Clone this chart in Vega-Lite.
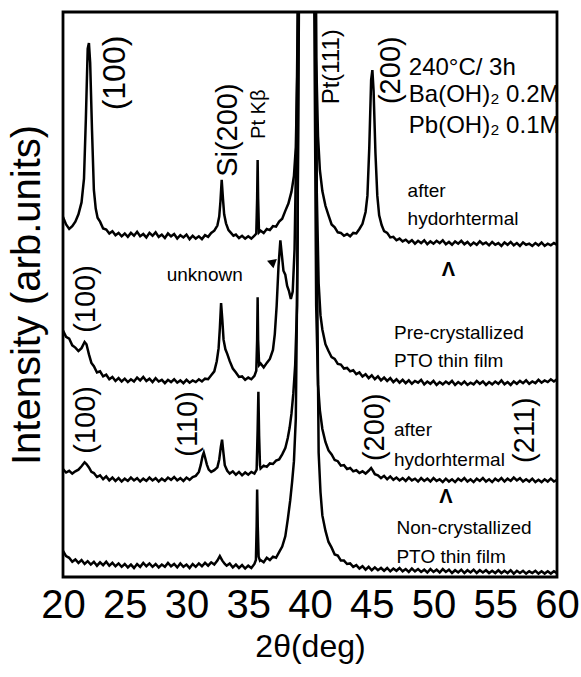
{
  "$schema": "https://vega.github.io/schema/vega-lite/v6.json",
  "width": 494,
  "height": 565,
  "autosize": {"type": "none"},
  "padding": {"left": 63, "top": 12, "right": 24, "bottom": 100},
  "background": "white",
  "config": {
    "view": {"stroke": "black", "strokeWidth": 2.8},
    "axis": {"grid": false, "domain": false, "ticks": false}
  },
  "datasets": {
    "xrd": [
      {"trace":"A","x":20.0,"y":63.7},{"trace":"A","x":20.25,"y":62.4},{"trace":"A","x":20.5,"y":61.6},{"trace":"A","x":20.75,"y":62.1},{"trace":"A","x":21.0,"y":62.9},{"trace":"A","x":21.25,"y":64.2},{"trace":"A","x":21.5,"y":66.3},{"trace":"A","x":21.7,"y":70.5},{"trace":"A","x":21.85,"y":81},{"trace":"A","x":22.0,"y":93.5},{"trace":"A","x":22.1,"y":94.5},{"trace":"A","x":22.2,"y":91},{"trace":"A","x":22.35,"y":79},{"trace":"A","x":22.5,"y":68.5},{"trace":"A","x":22.65,"y":65.2},{"trace":"A","x":22.8,"y":63.6},{"trace":"A","x":23.0,"y":62.9},{"trace":"A","x":23.25,"y":61.7},{"trace":"A","x":23.5,"y":61.5},{"trace":"A","x":23.75,"y":60.8},{"trace":"A","x":24.0,"y":61.2},{"trace":"A","x":24.25,"y":60.5},{"trace":"A","x":24.5,"y":60.9},{"trace":"A","x":24.75,"y":60.3},{"trace":"A","x":25.0,"y":60.8},{"trace":"A","x":25.25,"y":60.2},{"trace":"A","x":25.5,"y":60.9},{"trace":"A","x":25.75,"y":60.4},{"trace":"A","x":26.0,"y":61.1},{"trace":"A","x":26.25,"y":60.3},{"trace":"A","x":26.5,"y":60.7},{"trace":"A","x":26.75,"y":60.1},{"trace":"A","x":27.0,"y":60.9},{"trace":"A","x":27.25,"y":60.4},{"trace":"A","x":27.5,"y":61.0},{"trace":"A","x":27.75,"y":60.2},{"trace":"A","x":28.0,"y":60.6},{"trace":"A","x":28.25,"y":60.0},{"trace":"A","x":28.5,"y":60.8},{"trace":"A","x":28.75,"y":60.3},{"trace":"A","x":29.0,"y":60.7},{"trace":"A","x":29.25,"y":59.9},{"trace":"A","x":29.5,"y":60.5},{"trace":"A","x":29.75,"y":60.1},{"trace":"A","x":30.0,"y":60.6},{"trace":"A","x":30.25,"y":59.8},{"trace":"A","x":30.5,"y":60.4},{"trace":"A","x":30.75,"y":59.9},{"trace":"A","x":31.0,"y":60.3},{"trace":"A","x":31.25,"y":59.8},{"trace":"A","x":31.5,"y":60.5},{"trace":"A","x":31.75,"y":60.2},{"trace":"A","x":32.0,"y":60.9},{"trace":"A","x":32.25,"y":61.3},{"trace":"A","x":32.5,"y":62.2},{"trace":"A","x":32.65,"y":63.8},{"trace":"A","x":32.75,"y":66.5},{"trace":"A","x":32.85,"y":70.3},{"trace":"A","x":32.95,"y":67},{"trace":"A","x":33.05,"y":64.2},{"trace":"A","x":33.2,"y":62.6},{"trace":"A","x":33.4,"y":61.4},{"trace":"A","x":33.6,"y":60.9},{"trace":"A","x":33.8,"y":60.4},{"trace":"A","x":34.0,"y":60.6},{"trace":"A","x":34.25,"y":60.0},{"trace":"A","x":34.5,"y":60.4},{"trace":"A","x":34.75,"y":59.9},{"trace":"A","x":35.0,"y":60.3},{"trace":"A","x":35.25,"y":59.9},{"trace":"A","x":35.5,"y":60.4},{"trace":"A","x":35.65,"y":60.8},{"trace":"A","x":35.72,"y":67},{"trace":"A","x":35.76,"y":73.8},{"trace":"A","x":35.8,"y":67},{"trace":"A","x":35.87,"y":61.0},{"trace":"A","x":36.0,"y":61.3},{"trace":"A","x":36.25,"y":60.9},{"trace":"A","x":36.5,"y":61.6},{"trace":"A","x":36.75,"y":61.4},{"trace":"A","x":37.0,"y":62.1},{"trace":"A","x":37.25,"y":62.0},{"trace":"A","x":37.5,"y":62.9},{"trace":"A","x":37.75,"y":63.4},{"trace":"A","x":38.0,"y":64.8},{"trace":"A","x":38.25,"y":66.1},{"trace":"A","x":38.5,"y":68.2},{"trace":"A","x":38.7,"y":71},{"trace":"A","x":38.85,"y":76},{"trace":"A","x":39.0,"y":92},{"trace":"A","x":39.15,"y":150},{"trace":"A","x":39.75,"y":400},{"trace":"A","x":40.35,"y":150},{"trace":"A","x":40.5,"y":92},{"trace":"A","x":40.65,"y":78},{"trace":"A","x":40.8,"y":72},{"trace":"A","x":41.0,"y":68.3},{"trace":"A","x":41.25,"y":65.7},{"trace":"A","x":41.5,"y":64.0},{"trace":"A","x":41.75,"y":62.4},{"trace":"A","x":42.0,"y":61.9},{"trace":"A","x":42.25,"y":61.0},{"trace":"A","x":42.5,"y":60.9},{"trace":"A","x":42.75,"y":60.4},{"trace":"A","x":43.0,"y":60.7},{"trace":"A","x":43.25,"y":60.3},{"trace":"A","x":43.5,"y":60.9},{"trace":"A","x":43.75,"y":60.8},{"trace":"A","x":44.0,"y":61.6},{"trace":"A","x":44.25,"y":62.5},{"trace":"A","x":44.5,"y":64.6},{"trace":"A","x":44.65,"y":67.5},{"trace":"A","x":44.8,"y":76},{"trace":"A","x":44.95,"y":88},{"trace":"A","x":45.05,"y":89.7},{"trace":"A","x":45.15,"y":86},{"trace":"A","x":45.3,"y":75},{"trace":"A","x":45.45,"y":67.5},{"trace":"A","x":45.6,"y":64.0},{"trace":"A","x":45.8,"y":62.3},{"trace":"A","x":46.0,"y":61.2},{"trace":"A","x":46.25,"y":60.9},{"trace":"A","x":46.5,"y":60.1},{"trace":"A","x":46.75,"y":60.2},{"trace":"A","x":47.0,"y":59.6},{"trace":"A","x":47.25,"y":59.9},{"trace":"A","x":47.5,"y":59.4},{"trace":"A","x":47.75,"y":59.7},{"trace":"A","x":48.0,"y":59.2},{"trace":"A","x":48.25,"y":59.6},{"trace":"A","x":48.5,"y":59.0},{"trace":"A","x":48.75,"y":59.5},{"trace":"A","x":49.0,"y":59.1},{"trace":"A","x":49.25,"y":59.6},{"trace":"A","x":49.5,"y":58.9},{"trace":"A","x":49.75,"y":59.4},{"trace":"A","x":50.0,"y":59.0},{"trace":"A","x":50.25,"y":59.5},{"trace":"A","x":50.5,"y":59.1},{"trace":"A","x":50.75,"y":59.6},{"trace":"A","x":51.0,"y":58.9},{"trace":"A","x":51.25,"y":59.3},{"trace":"A","x":51.5,"y":58.8},{"trace":"A","x":51.75,"y":59.4},{"trace":"A","x":52.0,"y":59.0},{"trace":"A","x":52.25,"y":59.5},{"trace":"A","x":52.5,"y":58.9},{"trace":"A","x":52.75,"y":59.3},{"trace":"A","x":53.0,"y":58.7},{"trace":"A","x":53.25,"y":59.2},{"trace":"A","x":53.5,"y":58.8},{"trace":"A","x":53.75,"y":59.4},{"trace":"A","x":54.0,"y":58.9},{"trace":"A","x":54.25,"y":59.2},{"trace":"A","x":54.5,"y":58.7},{"trace":"A","x":54.75,"y":59.3},{"trace":"A","x":55.0,"y":58.8},{"trace":"A","x":55.25,"y":59.1},{"trace":"A","x":55.5,"y":58.6},{"trace":"A","x":55.75,"y":59.2},{"trace":"A","x":56.0,"y":58.8},{"trace":"A","x":56.25,"y":59.3},{"trace":"A","x":56.5,"y":58.7},{"trace":"A","x":56.75,"y":59.1},{"trace":"A","x":57.0,"y":58.6},{"trace":"A","x":57.25,"y":59.2},{"trace":"A","x":57.5,"y":58.8},{"trace":"A","x":57.75,"y":59.0},{"trace":"A","x":58.0,"y":58.6},{"trace":"A","x":58.25,"y":59.1},{"trace":"A","x":58.5,"y":58.7},{"trace":"A","x":58.75,"y":59.2},{"trace":"A","x":59.0,"y":58.6},{"trace":"A","x":59.25,"y":59.0},{"trace":"A","x":59.5,"y":58.7},{"trace":"A","x":59.75,"y":59.1},{"trace":"A","x":60.0,"y":58.8},
      {"trace":"B","x":20.0,"y":43.6},{"trace":"B","x":20.25,"y":42.5},{"trace":"B","x":20.5,"y":42.2},{"trace":"B","x":20.75,"y":41.0},{"trace":"B","x":21.0,"y":40.6},{"trace":"B","x":21.25,"y":40.0},{"trace":"B","x":21.5,"y":40.5},{"trace":"B","x":21.75,"y":41.6},{"trace":"B","x":21.9,"y":41.2},{"trace":"B","x":22.1,"y":39.4},{"trace":"B","x":22.3,"y":37.9},{"trace":"B","x":22.5,"y":37.3},{"trace":"B","x":22.75,"y":36.2},{"trace":"B","x":23.0,"y":36.4},{"trace":"B","x":23.25,"y":35.5},{"trace":"B","x":23.5,"y":35.8},{"trace":"B","x":23.75,"y":35.0},{"trace":"B","x":24.0,"y":35.4},{"trace":"B","x":24.25,"y":34.7},{"trace":"B","x":24.5,"y":35.2},{"trace":"B","x":24.75,"y":34.6},{"trace":"B","x":25.0,"y":35.1},{"trace":"B","x":25.25,"y":34.5},{"trace":"B","x":25.5,"y":35.0},{"trace":"B","x":25.75,"y":34.6},{"trace":"B","x":26.0,"y":35.3},{"trace":"B","x":26.25,"y":34.8},{"trace":"B","x":26.5,"y":35.4},{"trace":"B","x":26.75,"y":34.7},{"trace":"B","x":27.0,"y":35.1},{"trace":"B","x":27.25,"y":34.5},{"trace":"B","x":27.5,"y":35.2},{"trace":"B","x":27.75,"y":34.6},{"trace":"B","x":28.0,"y":34.9},{"trace":"B","x":28.25,"y":34.3},{"trace":"B","x":28.5,"y":34.9},{"trace":"B","x":28.75,"y":34.5},{"trace":"B","x":29.0,"y":35.0},{"trace":"B","x":29.25,"y":34.4},{"trace":"B","x":29.5,"y":34.8},{"trace":"B","x":29.75,"y":34.3},{"trace":"B","x":30.0,"y":34.9},{"trace":"B","x":30.25,"y":34.4},{"trace":"B","x":30.5,"y":34.8},{"trace":"B","x":30.75,"y":34.5},{"trace":"B","x":31.0,"y":35.0},{"trace":"B","x":31.25,"y":34.6},{"trace":"B","x":31.5,"y":35.1},{"trace":"B","x":31.75,"y":35.0},{"trace":"B","x":32.0,"y":35.7},{"trace":"B","x":32.25,"y":36.4},{"trace":"B","x":32.45,"y":38.2},{"trace":"B","x":32.6,"y":40.5},{"trace":"B","x":32.7,"y":44},{"trace":"B","x":32.8,"y":48.5},{"trace":"B","x":32.9,"y":45.5},{"trace":"B","x":33.0,"y":42},{"trace":"B","x":33.15,"y":40.3},{"trace":"B","x":33.3,"y":39.5},{"trace":"B","x":33.5,"y":38.2},{"trace":"B","x":33.75,"y":36.9},{"trace":"B","x":34.0,"y":36.2},{"trace":"B","x":34.25,"y":35.4},{"trace":"B","x":34.5,"y":35.5},{"trace":"B","x":34.75,"y":34.9},{"trace":"B","x":35.0,"y":35.3},{"trace":"B","x":35.25,"y":35.0},{"trace":"B","x":35.5,"y":35.6},{"trace":"B","x":35.65,"y":36.5},{"trace":"B","x":35.72,"y":42},{"trace":"B","x":35.76,"y":49.5},{"trace":"B","x":35.8,"y":42},{"trace":"B","x":35.88,"y":37.5},{"trace":"B","x":36.0,"y":37.8},{"trace":"B","x":36.25,"y":37.1},{"trace":"B","x":36.5,"y":37.9},{"trace":"B","x":36.75,"y":38.6},{"trace":"B","x":37.0,"y":40.2},{"trace":"B","x":37.15,"y":43},{"trace":"B","x":37.3,"y":48},{"trace":"B","x":37.45,"y":55},{"trace":"B","x":37.6,"y":59.6},{"trace":"B","x":37.72,"y":57},{"trace":"B","x":37.85,"y":54.2},{"trace":"B","x":38.0,"y":53.5},{"trace":"B","x":38.15,"y":51.5},{"trace":"B","x":38.3,"y":50.6},{"trace":"B","x":38.45,"y":49.2},{"trace":"B","x":38.6,"y":50.5},{"trace":"B","x":38.75,"y":58},{"trace":"B","x":38.9,"y":78},{"trace":"B","x":39.05,"y":110},{"trace":"B","x":39.75,"y":400},{"trace":"B","x":40.4,"y":110},{"trace":"B","x":40.55,"y":68},{"trace":"B","x":40.7,"y":52},{"trace":"B","x":40.85,"y":46.3},{"trace":"B","x":41.0,"y":43.8},{"trace":"B","x":41.25,"y":41.2},{"trace":"B","x":41.5,"y":40.0},{"trace":"B","x":41.75,"y":38.9},{"trace":"B","x":42.0,"y":38.6},{"trace":"B","x":42.25,"y":37.7},{"trace":"B","x":42.5,"y":37.6},{"trace":"B","x":42.75,"y":36.9},{"trace":"B","x":43.0,"y":37.0},{"trace":"B","x":43.25,"y":36.4},{"trace":"B","x":43.5,"y":36.6},{"trace":"B","x":43.75,"y":35.9},{"trace":"B","x":44.0,"y":36.2},{"trace":"B","x":44.25,"y":35.5},{"trace":"B","x":44.5,"y":35.9},{"trace":"B","x":44.75,"y":35.2},{"trace":"B","x":45.0,"y":35.7},{"trace":"B","x":45.25,"y":35.0},{"trace":"B","x":45.5,"y":35.5},{"trace":"B","x":45.75,"y":34.8},{"trace":"B","x":46.0,"y":35.3},{"trace":"B","x":46.25,"y":34.7},{"trace":"B","x":46.5,"y":35.2},{"trace":"B","x":46.75,"y":34.5},{"trace":"B","x":47.0,"y":35.0},{"trace":"B","x":47.25,"y":34.4},{"trace":"B","x":47.5,"y":34.9},{"trace":"B","x":47.75,"y":34.3},{"trace":"B","x":48.0,"y":34.8},{"trace":"B","x":48.25,"y":34.2},{"trace":"B","x":48.5,"y":34.7},{"trace":"B","x":48.75,"y":34.4},{"trace":"B","x":49.0,"y":34.9},{"trace":"B","x":49.25,"y":34.1},{"trace":"B","x":49.5,"y":34.6},{"trace":"B","x":49.75,"y":34.2},{"trace":"B","x":50.0,"y":34.7},{"trace":"B","x":50.25,"y":34.0},{"trace":"B","x":50.5,"y":34.5},{"trace":"B","x":50.75,"y":34.1},{"trace":"B","x":51.0,"y":34.6},{"trace":"B","x":51.25,"y":34.2},{"trace":"B","x":51.5,"y":34.7},{"trace":"B","x":51.75,"y":34.0},{"trace":"B","x":52.0,"y":34.5},{"trace":"B","x":52.25,"y":34.1},{"trace":"B","x":52.5,"y":34.6},{"trace":"B","x":52.75,"y":34.0},{"trace":"B","x":53.0,"y":34.4},{"trace":"B","x":53.25,"y":34.1},{"trace":"B","x":53.5,"y":34.7},{"trace":"B","x":53.75,"y":34.2},{"trace":"B","x":54.0,"y":34.6},{"trace":"B","x":54.25,"y":34.0},{"trace":"B","x":54.5,"y":34.5},{"trace":"B","x":54.75,"y":34.1},{"trace":"B","x":55.0,"y":34.6},{"trace":"B","x":55.25,"y":34.2},{"trace":"B","x":55.5,"y":34.8},{"trace":"B","x":55.75,"y":34.1},{"trace":"B","x":56.0,"y":34.5},{"trace":"B","x":56.25,"y":34.0},{"trace":"B","x":56.5,"y":34.6},{"trace":"B","x":56.75,"y":34.2},{"trace":"B","x":57.0,"y":34.7},{"trace":"B","x":57.25,"y":34.3},{"trace":"B","x":57.5,"y":34.8},{"trace":"B","x":57.75,"y":34.2},{"trace":"B","x":58.0,"y":34.6},{"trace":"B","x":58.25,"y":34.3},{"trace":"B","x":58.5,"y":34.9},{"trace":"B","x":58.75,"y":34.4},{"trace":"B","x":59.0,"y":34.8},{"trace":"B","x":59.25,"y":34.5},{"trace":"B","x":59.5,"y":35.0},{"trace":"B","x":59.75,"y":34.6},{"trace":"B","x":60.0,"y":35.0},
      {"trace":"C","x":20.0,"y":19.1},{"trace":"C","x":20.25,"y":18.5},{"trace":"C","x":20.5,"y":18.8},{"trace":"C","x":20.75,"y":18.3},{"trace":"C","x":21.0,"y":18.7},{"trace":"C","x":21.25,"y":19.0},{"trace":"C","x":21.5,"y":19.6},{"trace":"C","x":21.75,"y":20.3},{"trace":"C","x":21.9,"y":20.0},{"trace":"C","x":22.1,"y":19.4},{"trace":"C","x":22.3,"y":18.6},{"trace":"C","x":22.5,"y":18.4},{"trace":"C","x":22.75,"y":17.7},{"trace":"C","x":23.0,"y":18.0},{"trace":"C","x":23.25,"y":17.3},{"trace":"C","x":23.5,"y":17.8},{"trace":"C","x":23.75,"y":17.1},{"trace":"C","x":24.0,"y":17.6},{"trace":"C","x":24.25,"y":17.0},{"trace":"C","x":24.5,"y":17.5},{"trace":"C","x":24.75,"y":16.9},{"trace":"C","x":25.0,"y":17.4},{"trace":"C","x":25.25,"y":17.0},{"trace":"C","x":25.5,"y":17.6},{"trace":"C","x":25.75,"y":17.1},{"trace":"C","x":26.0,"y":17.5},{"trace":"C","x":26.25,"y":16.9},{"trace":"C","x":26.5,"y":17.4},{"trace":"C","x":26.75,"y":17.0},{"trace":"C","x":27.0,"y":17.6},{"trace":"C","x":27.25,"y":17.1},{"trace":"C","x":27.5,"y":17.5},{"trace":"C","x":27.75,"y":16.9},{"trace":"C","x":28.0,"y":17.4},{"trace":"C","x":28.25,"y":17.0},{"trace":"C","x":28.5,"y":17.6},{"trace":"C","x":28.75,"y":17.2},{"trace":"C","x":29.0,"y":17.7},{"trace":"C","x":29.25,"y":17.1},{"trace":"C","x":29.5,"y":17.5},{"trace":"C","x":29.75,"y":17.0},{"trace":"C","x":30.0,"y":17.6},{"trace":"C","x":30.25,"y":17.2},{"trace":"C","x":30.5,"y":17.7},{"trace":"C","x":30.75,"y":17.9},{"trace":"C","x":31.0,"y":18.6},{"trace":"C","x":31.15,"y":19.8},{"trace":"C","x":31.3,"y":21.4},{"trace":"C","x":31.4,"y":22.0},{"trace":"C","x":31.5,"y":21.2},{"trace":"C","x":31.65,"y":19.9},{"trace":"C","x":31.8,"y":19.0},{"trace":"C","x":32.0,"y":18.6},{"trace":"C","x":32.25,"y":18.9},{"trace":"C","x":32.5,"y":19.4},{"trace":"C","x":32.65,"y":20.8},{"trace":"C","x":32.78,"y":23.0},{"trace":"C","x":32.88,"y":24.3},{"trace":"C","x":32.98,"y":22.2},{"trace":"C","x":33.1,"y":19.8},{"trace":"C","x":33.3,"y":18.8},{"trace":"C","x":33.5,"y":18.3},{"trace":"C","x":33.75,"y":18.7},{"trace":"C","x":34.0,"y":18.1},{"trace":"C","x":34.25,"y":18.6},{"trace":"C","x":34.5,"y":18.0},{"trace":"C","x":34.75,"y":18.5},{"trace":"C","x":35.0,"y":18.1},{"trace":"C","x":35.25,"y":18.6},{"trace":"C","x":35.5,"y":18.3},{"trace":"C","x":35.68,"y":19.0},{"trace":"C","x":35.76,"y":26},{"trace":"C","x":35.82,"y":32.8},{"trace":"C","x":35.88,"y":25},{"trace":"C","x":35.95,"y":19.8},{"trace":"C","x":36.0,"y":19.2},{"trace":"C","x":36.25,"y":19.7},{"trace":"C","x":36.5,"y":19.5},{"trace":"C","x":36.75,"y":20.1},{"trace":"C","x":37.0,"y":20.0},{"trace":"C","x":37.25,"y":20.6},{"trace":"C","x":37.5,"y":20.8},{"trace":"C","x":37.75,"y":21.7},{"trace":"C","x":38.0,"y":22.8},{"trace":"C","x":38.2,"y":24.6},{"trace":"C","x":38.35,"y":26.4},{"trace":"C","x":38.5,"y":28.9},{"trace":"C","x":38.65,"y":32.5},{"trace":"C","x":38.8,"y":37.5},{"trace":"C","x":38.95,"y":48},{"trace":"C","x":39.1,"y":100},{"trace":"C","x":39.75,"y":400},{"trace":"C","x":40.35,"y":100},{"trace":"C","x":40.5,"y":48},{"trace":"C","x":40.65,"y":34},{"trace":"C","x":40.8,"y":29.5},{"trace":"C","x":41.0,"y":26.2},{"trace":"C","x":41.25,"y":23.9},{"trace":"C","x":41.5,"y":22.4},{"trace":"C","x":41.75,"y":21.7},{"trace":"C","x":42.0,"y":20.7},{"trace":"C","x":42.25,"y":20.5},{"trace":"C","x":42.5,"y":19.7},{"trace":"C","x":42.75,"y":19.8},{"trace":"C","x":43.0,"y":19.1},{"trace":"C","x":43.25,"y":19.3},{"trace":"C","x":43.5,"y":18.7},{"trace":"C","x":43.75,"y":18.9},{"trace":"C","x":44.0,"y":18.4},{"trace":"C","x":44.25,"y":18.7},{"trace":"C","x":44.5,"y":18.3},{"trace":"C","x":44.75,"y":18.8},{"trace":"C","x":44.95,"y":19.3},{"trace":"C","x":45.1,"y":18.8},{"trace":"C","x":45.25,"y":18.2},{"trace":"C","x":45.5,"y":18.0},{"trace":"C","x":45.75,"y":17.5},{"trace":"C","x":46.0,"y":17.9},{"trace":"C","x":46.25,"y":17.3},{"trace":"C","x":46.5,"y":17.8},{"trace":"C","x":46.75,"y":17.2},{"trace":"C","x":47.0,"y":17.6},{"trace":"C","x":47.25,"y":17.1},{"trace":"C","x":47.5,"y":17.5},{"trace":"C","x":47.75,"y":17.0},{"trace":"C","x":48.0,"y":17.6},{"trace":"C","x":48.25,"y":17.1},{"trace":"C","x":48.5,"y":17.4},{"trace":"C","x":48.75,"y":16.9},{"trace":"C","x":49.0,"y":17.5},{"trace":"C","x":49.25,"y":17.0},{"trace":"C","x":49.5,"y":17.4},{"trace":"C","x":49.75,"y":16.9},{"trace":"C","x":50.0,"y":17.5},{"trace":"C","x":50.25,"y":17.0},{"trace":"C","x":50.5,"y":17.3},{"trace":"C","x":50.75,"y":16.8},{"trace":"C","x":51.0,"y":17.4},{"trace":"C","x":51.25,"y":16.9},{"trace":"C","x":51.5,"y":17.3},{"trace":"C","x":51.75,"y":16.8},{"trace":"C","x":52.0,"y":17.4},{"trace":"C","x":52.25,"y":17.0},{"trace":"C","x":52.5,"y":17.5},{"trace":"C","x":52.75,"y":16.9},{"trace":"C","x":53.0,"y":17.3},{"trace":"C","x":53.25,"y":16.8},{"trace":"C","x":53.5,"y":17.4},{"trace":"C","x":53.75,"y":17.0},{"trace":"C","x":54.0,"y":17.5},{"trace":"C","x":54.25,"y":16.9},{"trace":"C","x":54.5,"y":17.3},{"trace":"C","x":54.75,"y":16.8},{"trace":"C","x":55.0,"y":17.4},{"trace":"C","x":55.25,"y":17.0},{"trace":"C","x":55.5,"y":17.5},{"trace":"C","x":55.75,"y":16.9},{"trace":"C","x":56.0,"y":17.4},{"trace":"C","x":56.25,"y":17.0},{"trace":"C","x":56.5,"y":17.6},{"trace":"C","x":56.75,"y":17.1},{"trace":"C","x":57.0,"y":17.5},{"trace":"C","x":57.25,"y":16.9},{"trace":"C","x":57.5,"y":17.3},{"trace":"C","x":57.75,"y":16.9},{"trace":"C","x":58.0,"y":17.4},{"trace":"C","x":58.25,"y":16.8},{"trace":"C","x":58.5,"y":17.2},{"trace":"C","x":58.75,"y":16.8},{"trace":"C","x":59.0,"y":17.3},{"trace":"C","x":59.25,"y":16.9},{"trace":"C","x":59.5,"y":17.4},{"trace":"C","x":59.75,"y":16.9},{"trace":"C","x":60.0,"y":17.2},
      {"trace":"D","x":20.0,"y":4.6},{"trace":"D","x":20.25,"y":3.7},{"trace":"D","x":20.5,"y":3.4},{"trace":"D","x":20.75,"y":2.7},{"trace":"D","x":21.0,"y":3.1},{"trace":"D","x":21.25,"y":2.5},{"trace":"D","x":21.5,"y":3.0},{"trace":"D","x":21.75,"y":2.3},{"trace":"D","x":22.0,"y":2.8},{"trace":"D","x":22.25,"y":2.2},{"trace":"D","x":22.5,"y":2.7},{"trace":"D","x":22.75,"y":2.0},{"trace":"D","x":23.0,"y":2.6},{"trace":"D","x":23.25,"y":2.1},{"trace":"D","x":23.5,"y":2.7},{"trace":"D","x":23.75,"y":2.0},{"trace":"D","x":24.0,"y":2.5},{"trace":"D","x":24.25,"y":1.9},{"trace":"D","x":24.5,"y":2.4},{"trace":"D","x":24.75,"y":1.8},{"trace":"D","x":25.0,"y":2.3},{"trace":"D","x":25.25,"y":1.7},{"trace":"D","x":25.5,"y":2.2},{"trace":"D","x":25.75,"y":1.6},{"trace":"D","x":26.0,"y":2.3},{"trace":"D","x":26.25,"y":1.8},{"trace":"D","x":26.5,"y":2.5},{"trace":"D","x":26.75,"y":1.9},{"trace":"D","x":27.0,"y":2.4},{"trace":"D","x":27.25,"y":1.8},{"trace":"D","x":27.5,"y":2.3},{"trace":"D","x":27.75,"y":1.7},{"trace":"D","x":28.0,"y":2.2},{"trace":"D","x":28.25,"y":1.8},{"trace":"D","x":28.5,"y":2.5},{"trace":"D","x":28.75,"y":1.9},{"trace":"D","x":29.0,"y":2.3},{"trace":"D","x":29.25,"y":1.7},{"trace":"D","x":29.5,"y":2.4},{"trace":"D","x":29.75,"y":1.8},{"trace":"D","x":30.0,"y":2.2},{"trace":"D","x":30.25,"y":1.6},{"trace":"D","x":30.5,"y":2.3},{"trace":"D","x":30.75,"y":1.8},{"trace":"D","x":31.0,"y":2.4},{"trace":"D","x":31.25,"y":1.9},{"trace":"D","x":31.5,"y":2.5},{"trace":"D","x":31.75,"y":2.0},{"trace":"D","x":32.0,"y":2.6},{"trace":"D","x":32.25,"y":2.2},{"trace":"D","x":32.5,"y":2.9},{"trace":"D","x":32.7,"y":3.7},{"trace":"D","x":32.9,"y":2.9},{"trace":"D","x":33.1,"y":2.3},{"trace":"D","x":33.25,"y":2.0},{"trace":"D","x":33.5,"y":2.4},{"trace":"D","x":33.75,"y":1.7},{"trace":"D","x":34.0,"y":2.2},{"trace":"D","x":34.25,"y":1.6},{"trace":"D","x":34.5,"y":2.1},{"trace":"D","x":34.75,"y":1.5},{"trace":"D","x":35.0,"y":2.0},{"trace":"D","x":35.25,"y":1.6},{"trace":"D","x":35.5,"y":2.3},{"trace":"D","x":35.62,"y":3.0},{"trace":"D","x":35.68,"y":9},{"trace":"D","x":35.72,"y":15.5},{"trace":"D","x":35.77,"y":9},{"trace":"D","x":35.84,"y":3.6},{"trace":"D","x":35.95,"y":2.9},{"trace":"D","x":36.0,"y":3.0},{"trace":"D","x":36.25,"y":2.6},{"trace":"D","x":36.5,"y":3.4},{"trace":"D","x":36.75,"y":3.0},{"trace":"D","x":37.0,"y":3.6},{"trace":"D","x":37.25,"y":3.4},{"trace":"D","x":37.5,"y":4.4},{"trace":"D","x":37.75,"y":5.4},{"trace":"D","x":38.0,"y":7.2},{"trace":"D","x":38.2,"y":10.2},{"trace":"D","x":38.4,"y":13.6},{"trace":"D","x":38.55,"y":16.8},{"trace":"D","x":38.7,"y":20.5},{"trace":"D","x":38.85,"y":28},{"trace":"D","x":39.0,"y":60},{"trace":"D","x":39.15,"y":150},{"trace":"D","x":39.75,"y":400},{"trace":"D","x":40.4,"y":150},{"trace":"D","x":40.55,"y":60},{"trace":"D","x":40.7,"y":22},{"trace":"D","x":40.85,"y":15},{"trace":"D","x":41.0,"y":10.9},{"trace":"D","x":41.25,"y":8.2},{"trace":"D","x":41.5,"y":6.2},{"trace":"D","x":41.75,"y":5.2},{"trace":"D","x":42.0,"y":4.0},{"trace":"D","x":42.25,"y":3.8},{"trace":"D","x":42.5,"y":2.9},{"trace":"D","x":42.75,"y":2.9},{"trace":"D","x":43.0,"y":2.3},{"trace":"D","x":43.25,"y":2.4},{"trace":"D","x":43.5,"y":1.8},{"trace":"D","x":43.75,"y":2.1},{"trace":"D","x":44.0,"y":1.5},{"trace":"D","x":44.25,"y":1.9},{"trace":"D","x":44.5,"y":1.3},{"trace":"D","x":44.75,"y":1.8},{"trace":"D","x":45.0,"y":1.2},{"trace":"D","x":45.25,"y":1.7},{"trace":"D","x":45.5,"y":1.2},{"trace":"D","x":45.75,"y":1.6},{"trace":"D","x":46.0,"y":1.1},{"trace":"D","x":46.25,"y":1.6},{"trace":"D","x":46.5,"y":1.0},{"trace":"D","x":46.75,"y":1.5},{"trace":"D","x":47.0,"y":1.1},{"trace":"D","x":47.25,"y":1.6},{"trace":"D","x":47.5,"y":1.0},{"trace":"D","x":47.75,"y":1.4},{"trace":"D","x":48.0,"y":0.9},{"trace":"D","x":48.25,"y":1.5},{"trace":"D","x":48.5,"y":1.0},{"trace":"D","x":48.75,"y":1.4},{"trace":"D","x":49.0,"y":0.9},{"trace":"D","x":49.25,"y":1.3},{"trace":"D","x":49.5,"y":0.8},{"trace":"D","x":49.75,"y":1.4},{"trace":"D","x":50.0,"y":0.9},{"trace":"D","x":50.25,"y":1.3},{"trace":"D","x":50.5,"y":0.8},{"trace":"D","x":50.75,"y":1.4},{"trace":"D","x":51.0,"y":0.9},{"trace":"D","x":51.25,"y":1.3},{"trace":"D","x":51.5,"y":0.7},{"trace":"D","x":51.75,"y":1.2},{"trace":"D","x":52.0,"y":0.8},{"trace":"D","x":52.25,"y":1.3},{"trace":"D","x":52.5,"y":0.7},{"trace":"D","x":52.75,"y":1.2},{"trace":"D","x":53.0,"y":0.8},{"trace":"D","x":53.25,"y":1.3},{"trace":"D","x":53.5,"y":0.7},{"trace":"D","x":53.75,"y":1.2},{"trace":"D","x":54.0,"y":0.8},{"trace":"D","x":54.25,"y":1.2},{"trace":"D","x":54.5,"y":0.7},{"trace":"D","x":54.75,"y":1.1},{"trace":"D","x":55.0,"y":0.7},{"trace":"D","x":55.25,"y":1.2},{"trace":"D","x":55.5,"y":0.7},{"trace":"D","x":55.75,"y":1.1},{"trace":"D","x":56.0,"y":0.7},{"trace":"D","x":56.25,"y":1.2},{"trace":"D","x":56.5,"y":0.6},{"trace":"D","x":56.75,"y":1.1},{"trace":"D","x":57.0,"y":0.7},{"trace":"D","x":57.25,"y":1.1},{"trace":"D","x":57.5,"y":0.6},{"trace":"D","x":57.75,"y":1.0},{"trace":"D","x":58.0,"y":0.7},{"trace":"D","x":58.25,"y":1.1},{"trace":"D","x":58.5,"y":0.6},{"trace":"D","x":58.75,"y":1.0},{"trace":"D","x":59.0,"y":0.6},{"trace":"D","x":59.25,"y":1.0},{"trace":"D","x":59.5,"y":0.6},{"trace":"D","x":59.75,"y":1.0},{"trace":"D","x":60.0,"y":0.7}
    ],
    "labels": [
      {"kind":"hklL","label":"(100)","x":24.2,"y":89.2},
      {"kind":"hklM","label":"Si(200)","x":33.4,"y":79.1},
      {"kind":"hklM","label":"(200)","x":46.55,"y":89.7},
      {"kind":"hklM","label":"(100)","x":21.9,"y":49.2},
      {"kind":"hklM","label":"(100)","x":21.9,"y":27.8},
      {"kind":"hklM","label":"(110)","x":30.1,"y":27.1},
      {"kind":"hklM","label":"(200)","x":45.3,"y":26.5},
      {"kind":"hklM","label":"(211)","x":57.4,"y":26.0},
      {"kind":"hklS","label":"Pt(111)","x":41.8,"y":90.3},
      {"kind":"hklXS","label":"Pt Kβ","x":35.9,"y":81.9},
      {"kind":"cond","label":"240°C/ 3h","x":48.0,"y":90.1},
      {"kind":"cond","label":"Ba(OH)₂ 0.2M","x":48.0,"y":85.3},
      {"kind":"cond","label":"Pb(OH)₂ 0.1M","x":48.0,"y":79.8},
      {"kind":"note","label":"after","x":47.9,"y":68.3},
      {"kind":"note","label":"hydorhtermal","x":47.9,"y":63.4},
      {"kind":"note","label":"unknown","x":28.4,"y":53.5},
      {"kind":"note","label":"Pre-crystallized","x":46.8,"y":43.2},
      {"kind":"note","label":"PTO thin film","x":46.8,"y":38.2},
      {"kind":"note","label":"after","x":46.8,"y":26.0},
      {"kind":"note","label":"hydorhtermal","x":46.8,"y":20.7},
      {"kind":"note","label":"Non-crystallized","x":47.0,"y":8.7},
      {"kind":"note","label":"PTO thin film","x":47.0,"y":3.5},
      {"kind":"caret","label":"Λ","x":51.2,"y":54.3},
      {"kind":"caret","label":"Λ","x":51.0,"y":14.2}
    ],
    "arrows": [
      {"x":37.05,"y":55.8}
    ]
  },
  "encoding": {
    "x": {
      "field": "x", "type": "quantitative",
      "scale": {"domain": [20, 60], "nice": false, "zero": false},
      "axis": {
        "values": [20, 25, 30, 35, 40, 45, 50, 55, 60],
        "labelFont": "Liberation Sans", "labelFontSize": 40, "labelColor": "black",
        "labelPadding": 8, "labelFlush": false, "labelOverlap": false, "labelBound": false,
        "title": "2θ(deg)", "titleFont": "Liberation Sans", "titleFontSize": 32,
        "titleFontWeight": "normal", "titleColor": "black", "titlePadding": 6
      }
    },
    "y": {
      "field": "y", "type": "quantitative",
      "scale": {"domain": [0, 100], "nice": false, "zero": false},
      "axis": {
        "labels": false,
        "title": "Intensity (arb.units)", "titleFont": "Liberation Sans", "titleFontSize": 40,
        "titleFontWeight": "normal", "titleColor": "black", "titlePadding": 16
      }
    }
  },
  "layer": [
    {
      "data": {"name": "xrd"},
      "mark": {"type": "line", "color": "black", "strokeWidth": 2.5, "clip": true},
      "encoding": {"detail": {"field": "trace", "type": "nominal"}}
    },
    {
      "data": {"name": "labels"},
      "transform": [{"filter": "datum.kind == 'hklL'"}],
      "mark": {"type": "text", "angle": 270, "font": "Liberation Sans", "fontSize": 32, "align": "center", "baseline": "middle", "color": "black"},
      "encoding": {"text": {"field": "label"}}
    },
    {
      "data": {"name": "labels"},
      "transform": [{"filter": "datum.kind == 'hklM'"}],
      "mark": {"type": "text", "angle": 270, "font": "Liberation Sans", "fontSize": 29, "align": "center", "baseline": "middle", "color": "black"},
      "encoding": {"text": {"field": "label"}}
    },
    {
      "data": {"name": "labels"},
      "transform": [{"filter": "datum.kind == 'hklS'"}],
      "mark": {"type": "text", "angle": 270, "font": "Liberation Sans", "fontSize": 24, "align": "center", "baseline": "middle", "color": "black"},
      "encoding": {"text": {"field": "label"}}
    },
    {
      "data": {"name": "labels"},
      "transform": [{"filter": "datum.kind == 'hklXS'"}],
      "mark": {"type": "text", "angle": 270, "font": "Liberation Sans", "fontSize": 20, "align": "center", "baseline": "middle", "color": "black"},
      "encoding": {"text": {"field": "label"}}
    },
    {
      "data": {"name": "labels"},
      "transform": [{"filter": "datum.kind == 'cond'"}],
      "mark": {"type": "text", "font": "Liberation Sans", "fontSize": 24, "align": "left", "baseline": "middle", "color": "black"},
      "encoding": {"text": {"field": "label"}}
    },
    {
      "data": {"name": "labels"},
      "transform": [{"filter": "datum.kind == 'note'"}],
      "mark": {"type": "text", "font": "Liberation Sans", "fontSize": 19, "align": "left", "baseline": "middle", "color": "black"},
      "encoding": {"text": {"field": "label"}}
    },
    {
      "data": {"name": "labels"},
      "transform": [{"filter": "datum.kind == 'caret'"}],
      "mark": {"type": "text", "font": "Liberation Sans", "fontWeight": "bold", "fontSize": 20, "align": "center", "baseline": "middle", "color": "black"},
      "encoding": {"text": {"field": "label"}}
    },
    {
      "data": {"name": "arrows"},
      "mark": {"type": "point", "shape": "triangle-up", "angle": 50, "size": 100, "filled": true, "color": "black", "opacity": 1},
      "encoding": {}
    }
  ]
}
